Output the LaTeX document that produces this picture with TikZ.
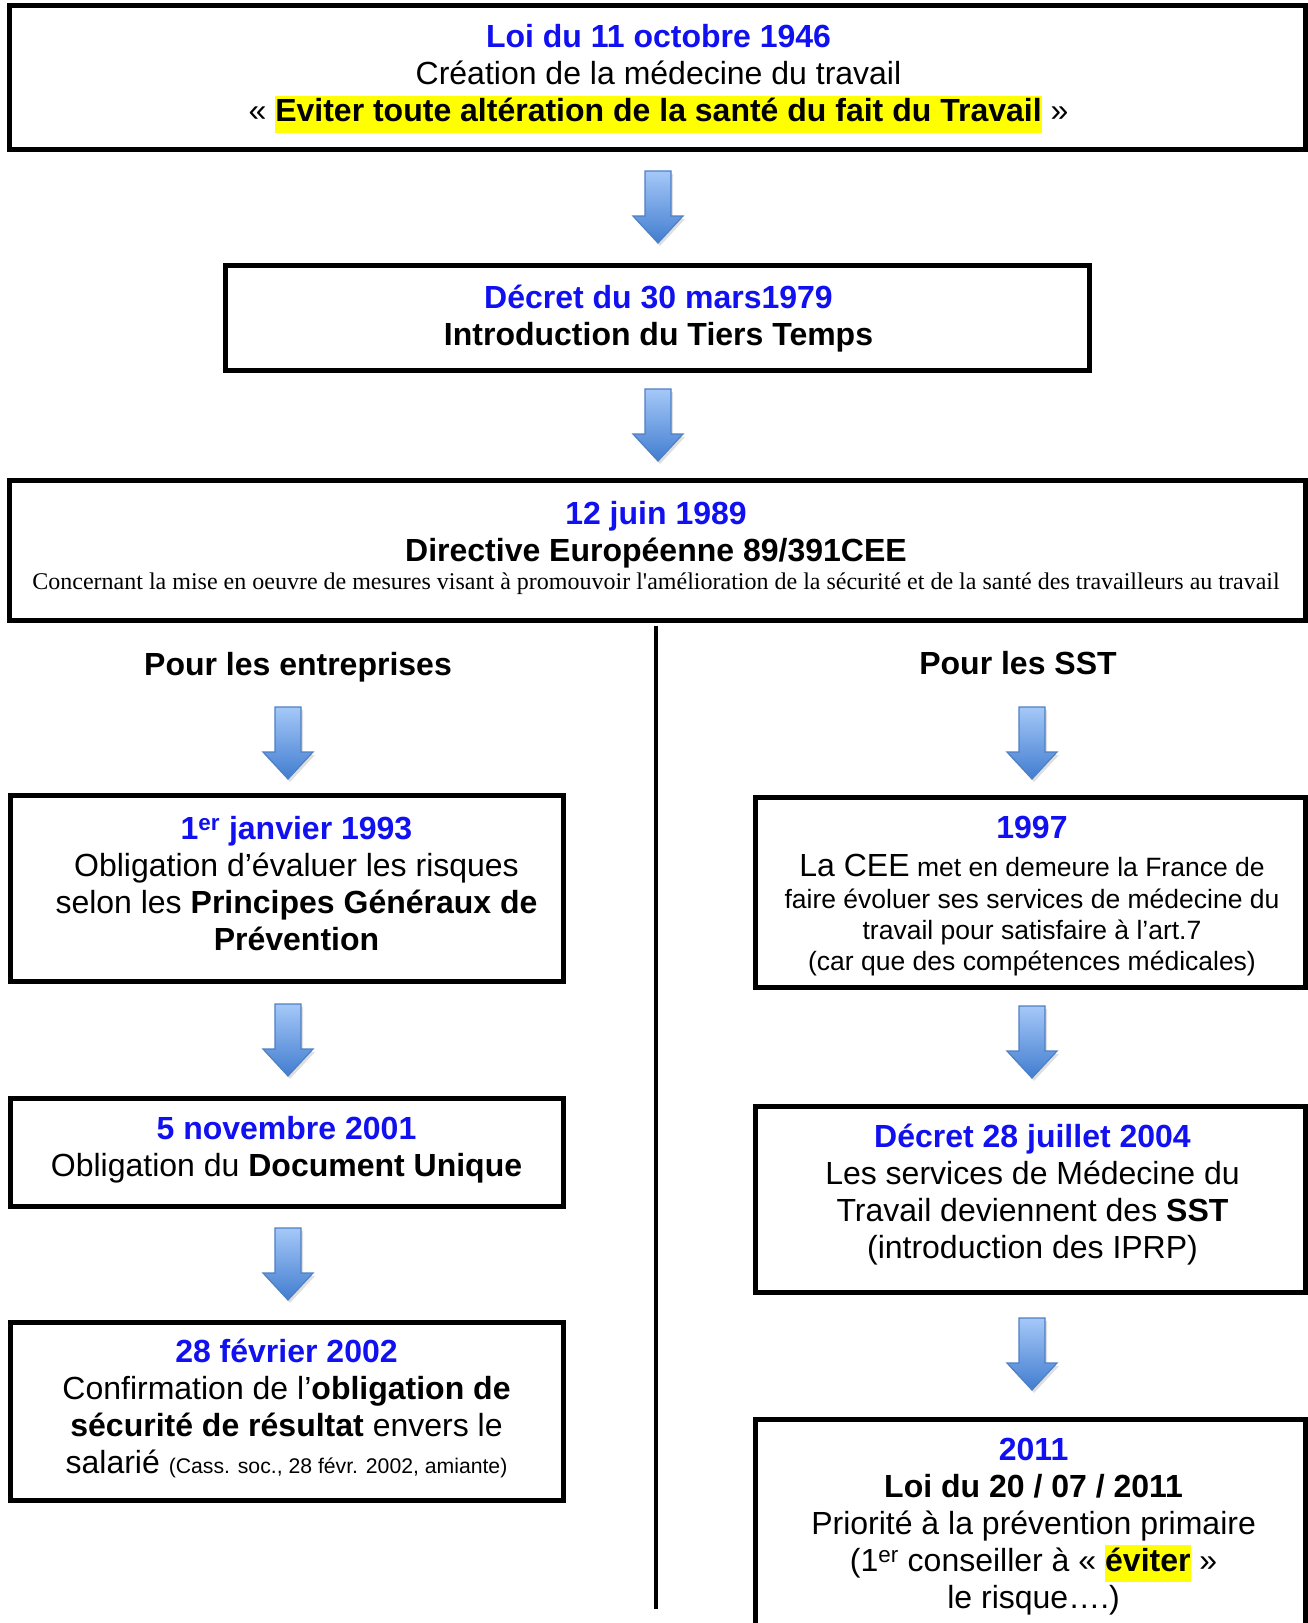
\documentclass[tikz,border=0pt]{standalone}
\usepackage{fontspec}
\setmainfont{Liberation Sans}
\newfontfamily\timesfont{Liberation Serif}
\usetikzlibrary{shadows}
\definecolor{datblue}{RGB}{16,16,240}
\definecolor{hlyellow}{RGB}{255,255,0}
\definecolor{arrtop}{RGB}{165,200,248}
\definecolor{arrbot}{RGB}{66,125,208}
\definecolor{arredge}{RGB}{78,128,196}
\newcommand{\hlt}[1]{{\setlength{\fboxsep}{0pt}\colorbox{hlyellow}{\strut #1}}}
\newcommand{\blockarrowat}[1]{%
  \path[blockarrow] (#1) ++(-13,0) -- ++(26,0) -- ++(0,45) -- ++(12,0)
    -- ++(-25,27) -- ++(-25,-27) -- ++(12,0) -- cycle;}
\tikzset{
  box/.style={draw=black, line width=5pt, inner sep=0pt},
  txt/.style={inner sep=0pt, align=center, font=\fontsize{32}{37}\selectfont},
  heading/.style={inner sep=0pt, font=\fontsize{32}{37}\selectfont\bfseries},
  blockarrow/.style={draw=arredge, line width=1.2pt, line join=miter,
    top color=arrtop, bottom color=arrbot,
    drop shadow={opacity=0.25, shadow xshift=2pt, shadow yshift=-3pt}},
  divider/.style={line width=4pt, draw=black}
}
\begin{document}
\begin{tikzpicture}[x=1pt, y=-1pt]
\clip (0,0) rectangle (1308,1623);
\fill[white] (0,0) rectangle (1308,1623);

% ---------- boxes ----------
\node[box, minimum width=1296pt, minimum height=143.7pt] (loi46) at (657.5,77.7) {};
\node[box, minimum width=863.7pt, minimum height=104.4pt] (dec79) at (657.6,318) {};
\node[box, minimum width=1296pt, minimum height=140pt] (dir89) at (657.5,550.5) {};
\node[box, minimum width=552.4pt, minimum height=185.7pt] (l93) at (287,888.6) {};
\node[box, minimum width=552.4pt, minimum height=107.5pt] (l01) at (287,1152.3) {};
\node[box, minimum width=552.4pt, minimum height=178pt] (l02) at (287,1411) {};
\node[box, minimum width=550.3pt, minimum height=190.3pt] (r97) at (1030.4,892.6) {};
\node[box, minimum width=550.3pt, minimum height=185.3pt] (r04) at (1030.4,1199.4) {};
\node[box, minimum width=550.3pt, minimum height=220.8pt] (r11) at (1030.4,1529.6) {};

% ---------- texts ----------
\node[txt] (loi46t) at (658.5,78.5)
  {{\color{datblue}\bfseries Loi du 11 octobre 1946}\\
   Création de la médecine du travail\\
   « \hlt{\bfseries Eviter toute altération de la santé du fait du Travail} »};

\node[txt] (dec79t) at (658.5,318.5)
  {{\color{datblue}\bfseries Décret du 30 mars1979}\\
   \textbf{Introduction du Tiers Temps}};

\node[txt] (dir89t) at (656,548)
  {{\color{datblue}\bfseries 12 juin 1989}\\
   \textbf{Directive Européenne 89/391CEE}\\[-9pt]
   {\timesfont\fontsize{24}{28}\selectfont Concernant la mise en oeuvre de mesures visant à promouvoir l'amélioration de la sécurité et de la santé des travailleurs au travail}};

\node[heading] (hent) at (298,667) {Pour les entreprises};
\node[heading] (hsst) at (1018,663) {Pour les SST};

\node[txt] (l93t) at (296.5,883.5)
  {{\color{datblue}\bfseries 1\textsuperscript{er} janvier 1993}\\
   Obligation d’évaluer les risques\\
   selon les \textbf{Principes Généraux de}\\
   \textbf{Prévention}};

\node[txt] (l01t) at (286.5,1149.5)
  {{\color{datblue}\bfseries 5 novembre 2001}\\
   Obligation du \textbf{Document Unique}};

\node[txt] (l02t) at (286.5,1408)
  {{\color{datblue}\bfseries 28 février 2002}\\
   Confirmation de l’\textbf{obligation de}\\
   \textbf{sécurité de résultat} envers le\\
   salarié {\fontsize{21.2}{25}\selectfont (Cass. soc., 28 févr. 2002, amiante)}};

\node[txt, font=\fontsize{26.5}{31}\selectfont] (r97t) at (1032,896.5)
  {{\fontsize{32}{37}\selectfont\color{datblue}\bfseries 1997}\\[7pt]
   {\fontsize{32}{37}\selectfont La CEE} met en demeure la France de\\[1pt]
   faire évoluer ses services de médecine du\\
   travail pour satisfaire à l’art.7\\
   (car que des compétences médicales)};

\node[txt] (r04t) at (1032.5,1194.5)
  {{\color{datblue}\bfseries Décret 28 juillet 2004}\\
   Les services de Médecine du\\
   Travail deviennent des \textbf{SST}\\
   (introduction des IPRP)};

\node[txt] (r11t) at (1033.6,1526.5)
  {{\color{datblue}\bfseries 2011}\\
   \textbf{Loi du 20 / 07 / 2011}\\
   Priorité à la prévention primaire\\
   (1\textsuperscript{er} conseiller à « \hlt{\bfseries éviter} »\\
   le risque….)};

% ---------- divider ----------
\coordinate (dtop) at (656,626);
\coordinate (dbot) at (656,1609);
\draw[divider] (dtop) -- (dbot);

% ---------- block arrows ----------
\coordinate (a1) at (658,171);
\coordinate (a2) at (658,389);
\coordinate (al1) at (288,707);
\coordinate (al2) at (288,1004);
\coordinate (al3) at (288,1228);
\coordinate (ar1) at (1032,707);
\coordinate (ar2) at (1032,1006);
\coordinate (ar3) at (1032,1318);
\blockarrowat{a1}
\blockarrowat{a2}
\blockarrowat{al1}
\blockarrowat{al2}
\blockarrowat{al3}
\blockarrowat{ar1}
\blockarrowat{ar2}
\blockarrowat{ar3}
\end{tikzpicture}
\end{document}
